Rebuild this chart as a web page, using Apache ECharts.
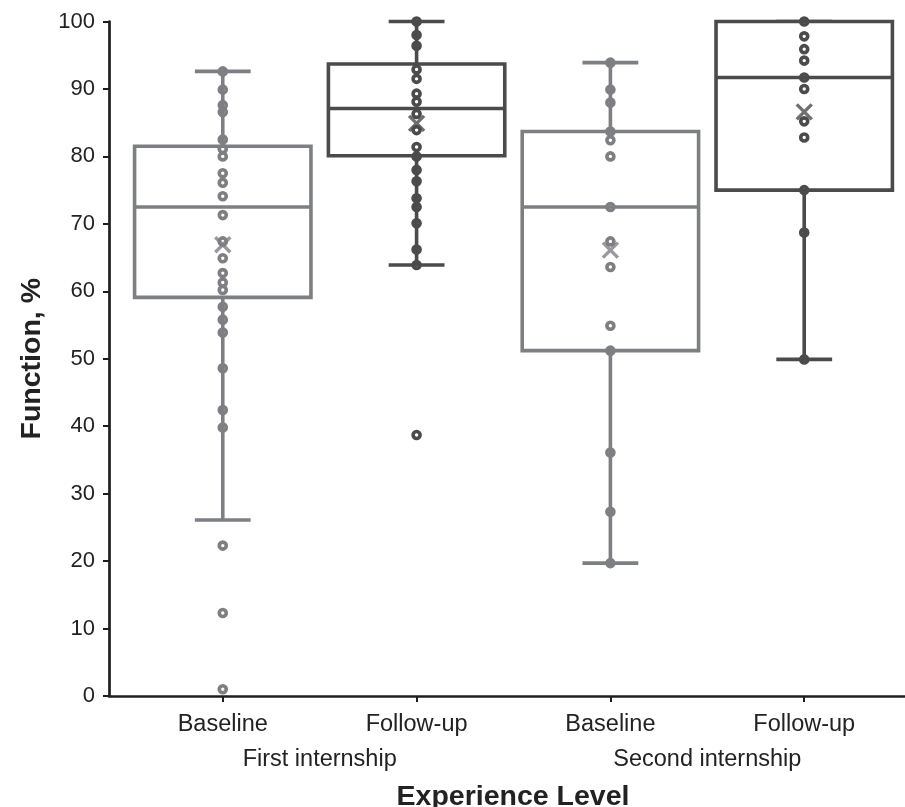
<!DOCTYPE html>
<html>
<head>
<meta charset="utf-8">
<script src="https://cdn.jsdelivr.net/npm/echarts@6/dist/echarts.min.js"></script>
<style>
html,body{margin:0;padding:0;background:#fff;}
#chart{width:905px;height:807px;}
</style>
</head>
<body>
<div id="chart"></div>
<script>
// ---- data ----
var categoryLabels = ['Baseline', 'Follow-up', 'Baseline', 'Follow-up'];
var groupLabels = ['First internship', 'Second internship'];
var yTicks = [0, 10, 20, 30, 40, 50, 60, 70, 80, 90, 100];

// [min, Q1, median, Q3, max] per box
var boxStats = [
  [26.1, 59.1, 72.5, 81.5, 92.6],
  [63.9, 80.1, 87.1, 93.7, 100],
  [19.7, 51.2, 72.5, 83.7, 93.9],
  [49.9, 75.0, 91.7, 100, 100]
];
var means = [66.9, 84.9, 66.1, 86.6];

var points1 = [92.6, 89.9, 87.6, 86.6, 82.5, 81.1, 80.0, 77.5, 76.1, 74.1, 71.3, 67.4, 64.9, 62.7, 61.3, 60.2, 57.7, 55.8, 53.9, 48.6, 42.4, 39.8, 22.3, 12.3, 1.0];
var points2 = [100, 98.0, 96.4, 92.9, 91.5, 89.3, 88.1, 86.3, 83.9, 81.4, 80.0, 78.0, 76.3, 73.8, 72.5, 70.1, 66.2, 63.9, 38.7];
var points3 = [93.9, 89.9, 88.0, 83.7, 82.4, 80.0, 72.5, 67.4, 63.6, 54.9, 51.2, 36.1, 27.3, 19.7];
var points4 = [100, 97.8, 95.9, 94.2, 91.7, 90.0, 85.2, 82.8, 75.0, 68.7, 49.9];
var allPoints = [points1, points2, points3, points4];

// ---- styles ----
var LIGHT = '#7e7f83';
var DARK = '#4b4b4e';
function boxColor(i) { return i % 2 === 0 ? LIGHT : DARK; }
var AXIS = '#1e1e1e';
var FONT = '"Liberation Sans", Arial, Helvetica, sans-serif';

var boxData = boxStats.map(function (s, i) { return [i + 1].concat(s); });

var series = [];
series.push({
  type: 'custom',
  xAxisIndex: 0,
  yAxisIndex: 0,
  z: 2,
  data: boxData,
  encode: { x: 0, y: [1, 2, 3, 4, 5] },
  renderItem: function (params, api) {
    var x = api.value(0);
    var mn = api.value(1), q1 = api.value(2), md = api.value(3), q3 = api.value(4), mx = api.value(5);
    var bh = 0.455, ch = 0.144;
    var col = boxColor(params.dataIndex);
    var lw = 3.6;
    var pTop = api.coord([x, mx]);
    var pBot = api.coord([x, mn]);
    var cL = api.coord([x - ch, 0])[0], cR = api.coord([x + ch, 0])[0];
    var bL = api.coord([x - bh, 0])[0], bR = api.coord([x + bh, 0])[0];
    var yQ3 = api.coord([x, q3])[1], yQ1 = api.coord([x, q1])[1], yMd = api.coord([x, md])[1];
    var ls = { stroke: col, lineWidth: lw, fill: null };
    return {
      type: 'group',
      children: [
        { type: 'line', shape: { x1: pTop[0], y1: pTop[1], x2: pBot[0], y2: pBot[1] }, style: ls },
        { type: 'line', shape: { x1: cL, y1: pTop[1], x2: cR, y2: pTop[1] }, style: ls },
        { type: 'line', shape: { x1: cL, y1: pBot[1], x2: cR, y2: pBot[1] }, style: ls },
        { type: 'rect', shape: { x: bL, y: yQ3, width: bR - bL, height: yQ1 - yQ3 }, style: { stroke: col, lineWidth: lw, fill: '#ffffff' } },
        { type: 'line', shape: { x1: bL, y1: yMd, x2: bR, y2: yMd }, style: ls }
      ]
    };
  }
});

allPoints.forEach(function (pts, i) {
  series.push({
    type: 'scatter',
    xAxisIndex: 0,
    yAxisIndex: 0,
    z: 3,
    symbol: 'circle',
    symbolSize: 7,
    itemStyle: { color: 'rgba(0,0,0,0)', borderColor: boxColor(i), borderWidth: 3.6, opacity: 1 },
    data: pts.map(function (v) { return [i + 1, v]; }),
    silent: true
  });
});

series.push({
  type: 'scatter',
  xAxisIndex: 0,
  yAxisIndex: 0,
  z: 4,
  symbol: 'path://M0,0L10,10M10,0L0,10',
  symbolSize: 15,
  data: means.map(function (v, i) {
    return { value: [i + 1, v], itemStyle: { color: 'rgba(0,0,0,0)', borderColor: boxColor(i), borderWidth: 3.4 } };
  }),
  silent: true
});

var chart = echarts.init(document.getElementById('chart'), null, { renderer: 'canvas' });
chart.setOption({
  backgroundColor: '#ffffff',
  animation: false,
  grid: { left: 109, right: 0, top: 21.5, bottom: 111, containLabel: false, outerBoundsMode: 'none' },
  xAxis: [
    {
      type: 'value',
      min: 0.413,
      max: 4.52,
      position: 'bottom',
      splitLine: { show: false },
      axisLine: { show: true, onZero: false, lineStyle: { color: AXIS, width: 2.7 } },
      axisTick: { show: true, length: 6, customValues: [1, 2, 3, 4], lineStyle: { color: AXIS, width: 2 } },
      axisLabel: {
        customValues: [1, 2, 3, 4],
        margin: 17,
        fontSize: 23.5,
        fontFamily: FONT,
        color: '#222',
        formatter: function (v) { return categoryLabels[Math.round(v) - 1]; }
      },
      name: 'Experience Level',
      nameLocation: 'middle',
      nameGap: 87,
      nameTextStyle: { fontSize: 28.5, fontWeight: 'bold', fontFamily: FONT, color: '#222', padding: [0, 0, 0, 12] }
    },
    {
      type: 'value',
      min: 0.413,
      max: 4.52,
      position: 'bottom',
      splitLine: { show: false },
      axisLine: { show: false, onZero: false },
      axisTick: { show: false },
      axisLabel: {
        customValues: [1.5, 3.5],
        margin: 52,
        fontSize: 23.5,
        fontFamily: FONT,
        color: '#222',
        formatter: function (v) { return groupLabels[Math.round((v - 1.5) / 2)]; }
      }
    }
  ],
  yAxis: {
    type: 'value',
    min: yTicks[0],
    max: yTicks[yTicks.length - 1],
    interval: 10,
    splitLine: { show: false },
    axisLine: { show: true, lineStyle: { color: AXIS, width: 2.7 } },
    axisTick: { show: true, length: 6, lineStyle: { color: AXIS, width: 2 } },
    axisLabel: { margin: 14, fontSize: 22, fontFamily: FONT, color: '#222' },
    name: 'Function, %',
    nameLocation: 'middle',
    nameGap: 62,
    nameRotate: 90,
    nameTextStyle: { fontSize: 28.5, fontWeight: 'bold', fontFamily: FONT, color: '#222' }
  },
  series: series
});
</script>
</body>
</html>
